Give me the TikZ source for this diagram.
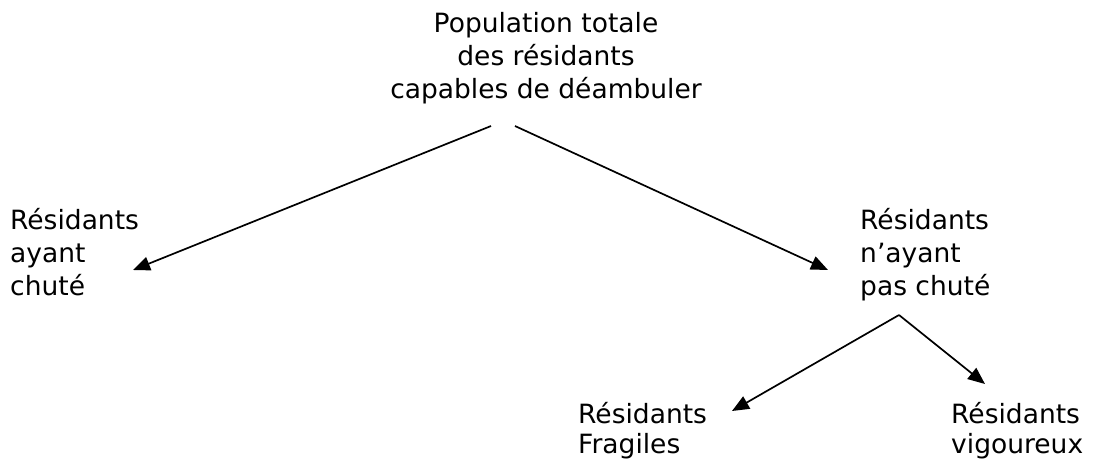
\documentclass[tikz,border=0pt]{standalone}
\usepackage{fontspec}
\setmainfont{DejaVu Sans}
\usepackage{tikz}
\usetikzlibrary{arrows.meta}

\tikzset{
  etiq/.style={inner sep=0pt, align=left, font=\fontsize{26.5}{33}\selectfont},
  fleche/.style={-{Triangle[length=17pt,width=14pt]}, line width=1.7pt}
}

\begin{document}
\begin{tikzpicture}[x=1pt,y=-1pt]
\useasboundingbox (0,0) rectangle (1102,459);

% Textes (ancre base = ligne du bas)
\node[etiq, align=center, anchor=base] (pop) at (546,98)
  {Population totale\\des résidants\\capables de déambuler};
\node[etiq, anchor=base west] (chute) at (10,295)
  {Résidants\\ayant\\chuté};
\node[etiq, anchor=base west] (paschute) at (860,295)
  {Résidants\\n’ayant\\pas chuté};
\node[etiq, anchor=base west, font=\fontsize{26.5}{30}\selectfont] (fragiles) at (578,453)
  {Résidants\\Fragiles};
\node[etiq, anchor=base west, font=\fontsize{26.5}{30}\selectfont] (vigoureux) at (951,453)
  {Résidants\\vigoureux};

% Points de depart et d'arrivee
\coordinate (popg) at (491,126);
\coordinate (popd) at (515,126);
\coordinate (chuteb) at (133,270);
\coordinate (paschuteh) at (828,270);
\coordinate (paschuteb) at (899,315);
\coordinate (fragilesh) at (732,411);
\coordinate (vigoureuxh) at (985,384);

% Fleches
\draw[fleche] (popg) -- (chuteb);
\draw[fleche] (popd) -- (paschuteh);
\draw[fleche] (paschuteb) -- (fragilesh);
\draw[fleche] (paschuteb) -- (vigoureuxh);
\end{tikzpicture}
\end{document}
